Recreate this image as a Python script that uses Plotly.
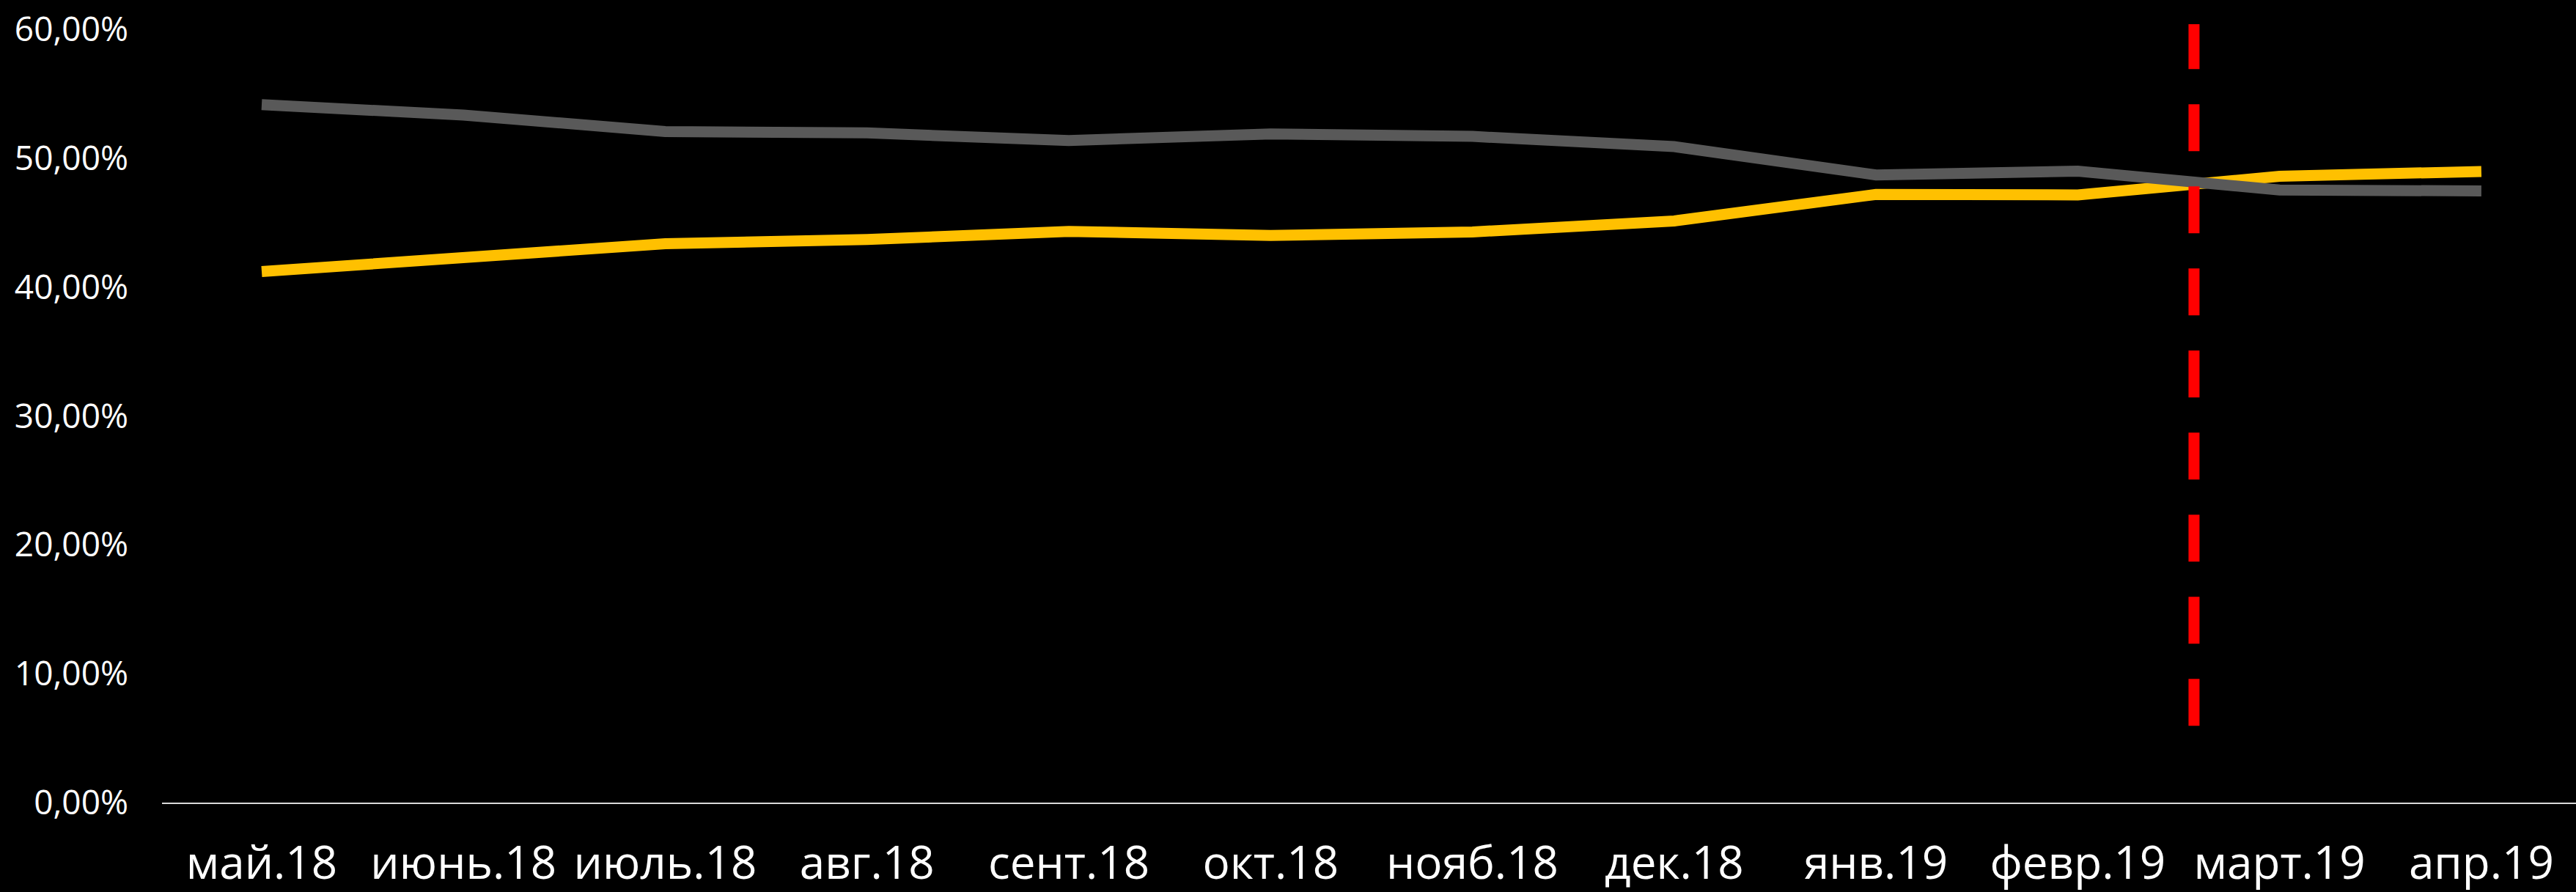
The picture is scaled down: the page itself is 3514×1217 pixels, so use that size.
import plotly.graph_objects as go

# ---- data ----
months = ["май.18", "июнь.18", "июль.18", "авг.18", "сент.18", "окт.18",
          "нояб.18", "дек.18", "янв.19", "февр.19", "март.19", "апр.19"]
gray_share_pct = [54.15, 53.35, 52.07, 51.96, 51.37, 51.88, 51.69, 50.90, 48.70, 48.99, 47.53, 47.46]
yellow_share_pct = [41.20, 42.25, 43.37, 43.69, 44.32, 44.00, 44.28, 45.13, 47.19, 47.15, 48.60, 48.97]
divider_position = 9.576          # category position of the red dashed marker
y_ticks_pct = [0, 10, 20, 30, 40, 50, 60]

# ---- style ----
GRAY = "#595959"
YELLOW = "#FFC000"
RED = "#FF0000"
FONT = "Open Sans"

x_idx = list(range(len(months)))

fig = go.Figure()
fig.add_trace(go.Scatter(
    x=x_idx, y=[v / 100 for v in yellow_share_pct], mode="lines",
    line=dict(color=YELLOW, width=15), hoverinfo="skip", showlegend=False))
fig.add_trace(go.Scatter(
    x=x_idx, y=[v / 100 for v in gray_share_pct], mode="lines",
    line=dict(color=GRAY, width=15), hoverinfo="skip", showlegend=False))

fig.add_shape(type="line", xref="x", yref="paper",
              x0=divider_position, x1=divider_position, y0=0.0992, y1=1.0066,
              line=dict(color=RED, width=15, dash="64px,48px"), layer="above")

fig.update_layout(
    width=3514, height=1217,
    paper_bgcolor="black", plot_bgcolor="black",
    margin=dict(l=221, r=0, t=40, b=119, pad=0),
    separators=", ",
    font=dict(family=FONT, color="white"),
    showlegend=False,
    xaxis=dict(
        tickmode="array", tickvals=x_idx, ticktext=months,
        range=[-0.494, 11.469],
        showgrid=False, zeroline=False,
        showline=True, linecolor="#D9D9D9", linewidth=2,
        ticks="", tickfont=dict(family=FONT, size=62, color="white"),
        ticklabelstandoff=28,
    ),
    yaxis=dict(
        range=[0, 0.6], tickmode="array",
        tickvals=[t / 100 for t in y_ticks_pct], tickformat=".2%",
        showgrid=False, zeroline=False, showline=False,
        ticks="", tickfont=dict(family=FONT, size=46, color="white"),
        ticklabelstandoff=45,
    ),
)

fig.write_html(
    "out.html",
    config={"displayModeBar": False},
    post_script="document.body.style.margin='0';document.body.style.background='black';document.body.style.overflow='hidden';",
)
